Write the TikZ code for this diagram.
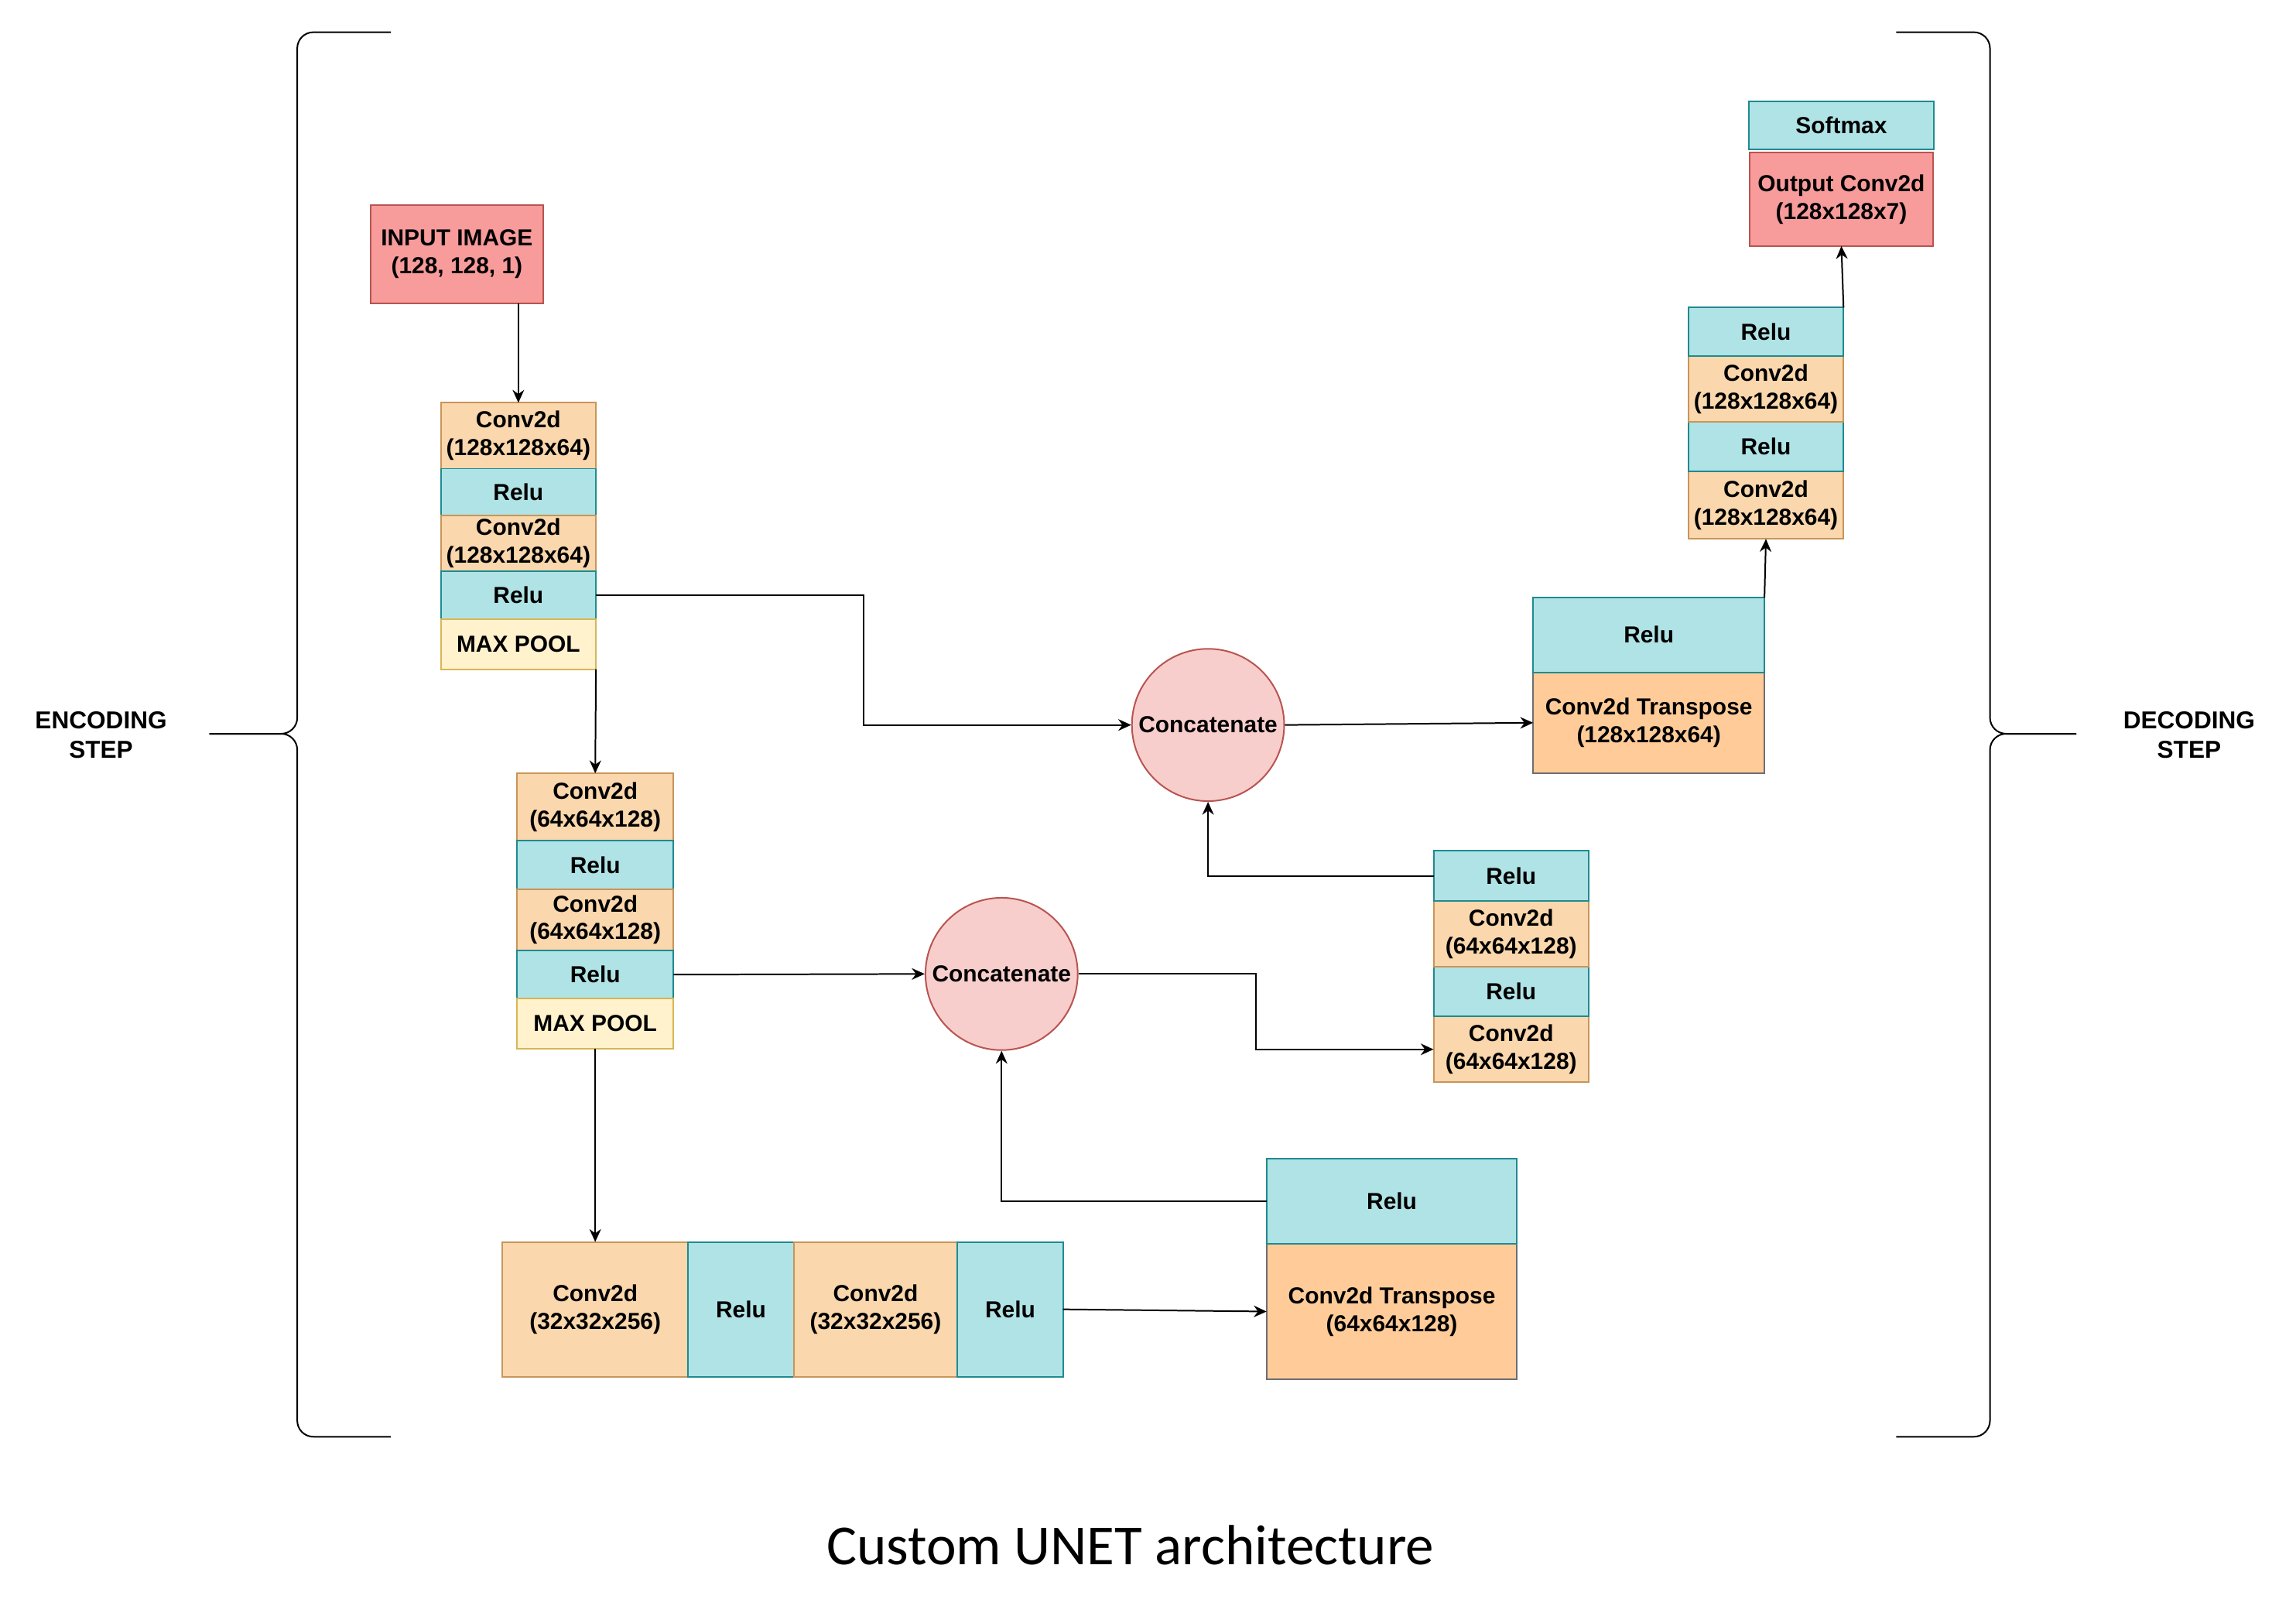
\documentclass[tikz,border=0pt]{standalone}
\usepackage{fontspec}
\setmainfont{Liberation Sans}
\newfontfamily\captionfont{Carlito}
\usepackage{xcolor}
\usetikzlibrary{arrows.meta,positioning,calc}
\definecolor{unetred}{HTML}{F89B9B}
\definecolor{unetreddark}{HTML}{B85450}
\definecolor{unetorange}{HTML}{FAD7AC}
\definecolor{unetorangedark}{HTML}{C8955A}
\definecolor{unetpeach}{HTML}{FFCC99}
\definecolor{unetgray}{HTML}{6D6E70}
\definecolor{unetcyan}{HTML}{B0E3E6}
\definecolor{unetcyandark}{HTML}{1F8A90}
\definecolor{unetyellow}{HTML}{FFF2CC}
\definecolor{unetyellowdark}{HTML}{D6B656}
\definecolor{unetpink}{HTML}{F8CECC}

\begin{document}
\begin{tikzpicture}[
        x=0.02cm, y=-0.02cm,
        node distance=0pt,
        block/.style={
            draw,
            line width=0.6pt,
            minimum width=2.12cm,
            inner sep=1pt,
            outer sep=0pt,
            align=center,
            font=\fontsize{9}{10.8}\selectfont\bfseries
        },
        conv/.style={block, draw=unetorangedark, fill=unetorange},
        relu/.style={block, draw=unetcyandark, fill=unetcyan},
        pool/.style={block, draw=unetyellowdark, fill=unetyellow},
        endbox/.style={block, draw=unetreddark, fill=unetred},
        upconv/.style={block, draw=unetgray, fill=unetpeach},
        merge/.style={
            circle,
            draw=unetreddark,
            fill=unetpink,
            line width=0.6pt,
            minimum size=2.08cm,
            inner sep=0pt,
            font=\fontsize{9}{10.8}\selectfont\bfseries
        },
        steplabel/.style={align=center, font=\fontsize{9.5}{11.5}\selectfont\bfseries},
        brace/.style={line width=0.6pt, rounded corners=0.22cm},
        one/.style={->,>={Stealth[length=5pt,width=4.5pt]},line width=0.6pt}
    ]
        \useasboundingbox (0,0) rectangle (1568,1101);

        % encoding side
        \node[endbox, minimum width=2.36cm, minimum height=1.34cm] (input) at (312,173.5) {INPUT IMAGE\\(128, 128, 1)};

        \node[conv, minimum height=0.9cm] (c1a) at (354,297.5) {Conv2d\\(128x128x64)};
        \node[relu, minimum height=0.64cm, below=of c1a] (r1a) {Relu};
        \node[conv, minimum height=0.76cm, below=of r1a] (c1b) {Conv2d\\(128x128x64)};
        \node[relu, minimum height=0.66cm, below=of c1b] (r1b) {Relu};
        \node[pool, minimum height=0.68cm, below=of r1b] (p1) {MAX POOL};

        \node[conv, minimum width=2.14cm, minimum height=0.92cm] (c2a) at (406.5,551) {Conv2d\\(64x64x128)};
        \node[relu, minimum width=2.14cm, minimum height=0.66cm, below=of c2a] (r2a) {Relu};
        \node[conv, minimum width=2.14cm, minimum height=0.84cm, below=of r2a] (c2b) {Conv2d\\(64x64x128)};
        \node[relu, minimum width=2.14cm, minimum height=0.66cm, below=of c2b] (r2b) {Relu};
        \node[pool, minimum width=2.14cm, minimum height=0.68cm, below=of r2b] (p2) {MAX POOL};

        % bottleneck
        \node[conv, minimum width=2.54cm, minimum height=1.84cm] (c3a) at (406.5,894) {Conv2d\\(32x32x256)};
        \node[relu, minimum width=1.44cm, minimum height=1.84cm, right=of c3a] (r3a) {Relu};
        \node[conv, minimum width=2.24cm, minimum height=1.84cm, right=of r3a] (c3b) {Conv2d\\(32x32x256)};
        \node[relu, minimum width=1.44cm, minimum height=1.84cm, right=of c3b] (r3b) {Relu};

        % decoding side
        \node[upconv, minimum width=3.42cm, minimum height=1.86cm] (ct2) at (950.5,895.5) {Conv2d Transpose\\(64x64x128)};
        \node[relu, minimum width=3.42cm, minimum height=1.16cm, above=of ct2] (r4) {Relu};
        \node[merge] (cat2) at (684,665) {Concatenate};

        \node[conv, minimum height=0.9cm] (c5b) at (1032,716.5) {Conv2d\\(64x64x128)};
        \node[relu, minimum height=0.68cm, above=of c5b] (r5b) {Relu};
        \node[conv, minimum height=0.9cm, above=of r5b] (c5a) {Conv2d\\(64x64x128)};
        \node[relu, minimum height=0.68cm, above=of c5a] (r5a) {Relu};
        \node[merge] (cat1) at (825,495) {Concatenate};

        \node[upconv, minimum width=3.16cm, minimum height=1.38cm] (ct1) at (1126,493.5) {Conv2d Transpose\\(128x128x64)};
        \node[relu, minimum width=3.16cm, minimum height=1.02cm, above=of ct1] (r6) {Relu};

        \node[conv, minimum height=0.92cm] (c7b) at (1206,345) {Conv2d\\(128x128x64)};
        \node[relu, minimum height=0.68cm, above=of c7b] (r7b) {Relu};
        \node[conv, minimum height=0.9cm, above=of r7b] (c7a) {Conv2d\\(128x128x64)};
        \node[relu, minimum height=0.66cm, above=of c7a] (r7a) {Relu};

        \node[endbox, minimum width=2.5cm, minimum height=1.28cm] (out) at (1257.5,136) {Output Conv2d\\(128x128x7)};
        \node[relu, minimum width=2.52cm, minimum height=0.66cm, above=0.04cm of out] (soft) {Softmax};

        % braces and labels
        \draw[brace] (267,22) -- (203,22) -- (203,501) -- (143,501);
        \draw[brace] (267,981) -- (203,981) -- (203,501) -- (143,501);
        \draw[brace] (1295,22) -- (1359,22) -- (1359,501) -- (1418,501);
        \draw[brace] (1295,981) -- (1359,981) -- (1359,501) -- (1418,501);
        \node[steplabel] (enc) at (69,502) {ENCODING\\STEP};
        \node[steplabel] (dec) at (1495,502) {DECODING\\STEP};
        \node[font=\captionfont\fontsize{22}{26}\selectfont] (title) at (772,1055) {Custom UNET architecture};

        % connections
        \draw[one] (input.south -| c1a.north) -- (c1a.north);
        \draw[one] (p1.south east) -- (c2a.north);
        \draw[one] (p2.south) -- (c3a.north);
        \draw[one] (r1b.east) -| ($(r1b.east)!.5!(cat1.west)$) |- (cat1.west);
        \draw[one] (r2b.east) -- (cat2.west);
        \draw[one] (r3b.east) -- (ct2.west);
        \draw[one] (r4.west) -| (cat2.south);
        \draw[one] (cat2.east) -| ($(cat2.east)!.5!(c5b.west)$) |- (c5b.west);
        \draw[one] (r5a.west) -| (cat1.south);
        \draw[one] (cat1.east) -- (ct1.west);
        \draw[one] (r6.north east) -- (c7b.south);
        \draw[one] (r7a.north east) -- (out.south);
    \end{tikzpicture}
\end{document}
